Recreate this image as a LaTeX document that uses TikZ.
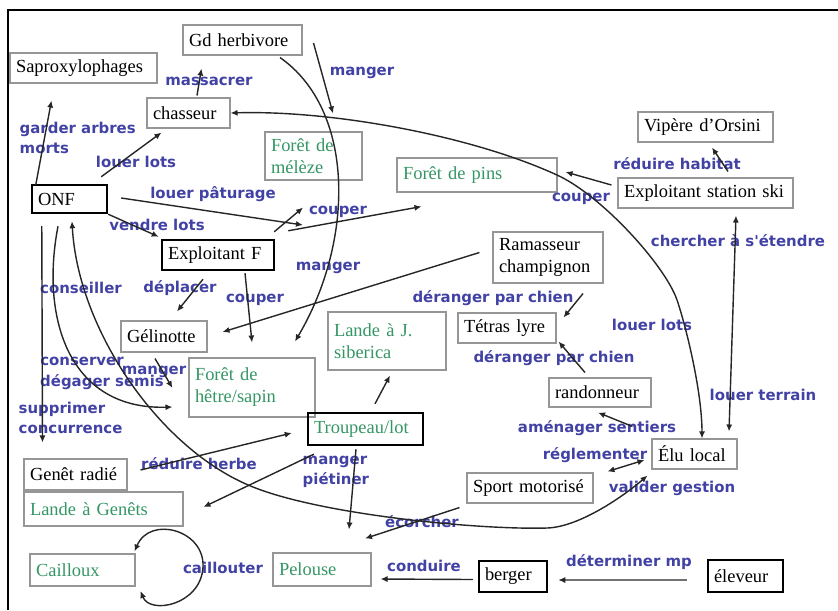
\documentclass[tikz,border=0pt]{standalone}
\usepackage{fontspec}
\setmainfont{Liberation Serif}
\newfontfamily\lblfont{DejaVu Sans}
\usetikzlibrary{arrows.meta,calc}
\definecolor{lblblue}{RGB}{66,66,165}
\definecolor{boxgreen}{RGB}{52,150,100}
\definecolor{boxgray}{RGB}{150,150,150}

\begin{document}
\begin{tikzpicture}[x=0.02cm, y=-0.02cm, line width=0.8pt,
  box/.style={draw=boxgray, line width=0.6pt, inner xsep=0.12cm, inner ysep=0pt,
    align=left, font=\fontsize{10.5}{12.5}\selectfont, minimum height=0.6cm},
  thickbox/.style={box, draw=black, line width=1.4pt},
  greentext/.style={text=boxgreen},
  lbl/.style={text=lblblue, font=\lblfont\bfseries\fontsize{8.5}{11}\selectfont,
    inner sep=0pt, align=left},
  arr/.style={-{Latex[length=4pt,width=3.5pt]}, black!85},
  darr/.style={{Latex[length=4pt,width=3.5pt]}-{Latex[length=4pt,width=3.5pt]}, black!85}]

\useasboundingbox (0,0) rectangle (838,610);
\draw[line width=1.2pt] (8,610) -- (8,10) -- (838,10);

% acteurs et milieux
\node[box, text width=2.14cm] (herb) at (242.5,40) {Gd herbivore};
\node[box, text width=2.70cm] (sapro) at (83.5,68) {Saproxylophages};
\node[box, text width=1.42cm] (chass) at (188.5,113) {chasseur};
\node[box, greentext, text width=1.70cm, minimum height=0.96cm] (meleze) at (313.5,156) {Forêt de\\mélèze};
\node[box, greentext, text width=2.96cm, minimum height=0.68cm] (pins) at (477,175) {Forêt de pins};
\node[box, text width=2.46cm] (vipere) at (705.5,127) {Vipère d'Orsini};
\node[box, text width=3.26cm] (ski) at (705.5,193) {Exploitant station ski};
\node[thickbox, text width=1.26cm, minimum height=0.56cm] (onf) at (69.5,199) {ONF};
\node[thickbox, text width=2.00cm] (explF) at (218,255) {Exploitant F};
\node[box, text width=1.48cm, minimum height=0.62cm] (gelin) at (164,336.5) {Gélinotte};
\node[box, greentext, text width=2.28cm, minimum height=1.18cm] (hetre) at (252,387.5) {Forêt de\\hêtre/sapin};
\node[box, greentext, text width=2.12cm, minimum height=1.16cm] (landej) at (387,341) {Lande à J.\\siberica};
\node[box, text width=1.96cm, minimum height=1.02cm] (ramass) at (548,257.5) {Ramasseur\\champignon};
\node[box, text width=1.72cm] (tetras) at (507,328) {Tétras lyre};
\node[box, text width=1.80cm, minimum height=0.58cm] (rando) at (600,392.5) {randonneur};
\node[thickbox, greentext, text width=2.06cm, minimum height=0.64cm] (troup) at (365.5,429) {Troupeau/lot};
\node[box, text width=1.82cm, minimum height=0.62cm] (genet) at (75.5,474.5) {Genêt radié};
\node[box, greentext, text width=2.94cm, minimum height=0.68cm] (landeg) at (103.5,509) {Lande à Genêts};
\node[box, greentext, text width=1.86cm, minimum height=0.64cm] (caill) at (82.5,570) {Cailloux};
\node[box, greentext, text width=1.72cm, minimum height=0.66cm] (pel) at (322,569.5) {Pelouse};
\node[box, text width=1.46cm] (elu) at (694.5,454) {Élu local};
\node[box, text width=2.28cm] (sport) at (530,488) {Sport motorisé};
\node[thickbox, text width=1.12cm, minimum height=0.62cm] (berger) at (513,576.5) {berger};
\node[thickbox, text width=1.26cm, minimum height=0.64cm] (eleveur) at (745.5,576) {éleveur};
\coordinate (patur) at (303,225);

% relations
\node[lbl] (lMassacrer) at (209,81) {massacrer};
\node[lbl] (lManger1) at (362,73) {manger};
\node[lbl, anchor=west] (lGarder) at (19,138) {garder arbres\\morts};
\node[lbl] (lLouer1) at (136,162) {louer lots};
\node[lbl] (lPaturage) at (213,194) {louer pâturage};
\node[lbl] (lVendre) at (157,225) {vendre lots};
\node[lbl] (lCouper1) at (338,212) {couper};
\node[lbl] (lManger2) at (328,268) {manger};
\node[lbl] (lCouper2) at (255,300) {couper};
\node[lbl] (lConseiller) at (81,288) {conseiller};
\node[lbl] (lDeplacer) at (180,288) {déplacer};
\node[lbl] (lDeranger1) at (493,298) {déranger par chien};
\node[lbl] (lDeranger2) at (554,358) {déranger par chien};
\node[lbl] (lLouer2) at (652,325) {louer lots};
\node[lbl] (lEtendre) at (738,241) {chercher à s'étendre};
\node[lbl] (lTerrain) at (763,395) {louer terrain};
\node[lbl] (lHabitat) at (677,164) {réduire habitat};
\node[lbl] (lCouper3) at (581,199) {couper};
\node[lbl] (lConserver) at (82,361) {conserver};
\node[lbl] (lSemis) at (102,382) {dégager semis};
\node[lbl] (lManger3) at (154,372) {manger};
\node[lbl, anchor=west] (lSupprimer) at (18,418) {supprimer\\concurrence};
\node[lbl] (lHerbe) at (199,464) {réduire herbe};
\node[lbl, anchor=west] (lPietiner) at (302,472) {manger\\piétiner};
\node[lbl] (lEcorcher) at (422,522) {écorcher};
\node[lbl] (lCaillouter) at (223,568) {caillouter};
\node[lbl] (lConduire) at (424,566) {conduire};
\node[lbl] (lMp) at (629,562) {déterminer mp};
\node[lbl] (lSentiers) at (597,428) {aménager sentiers};
\node[lbl] (lReglementer) at (595,455) {réglementer};
\node[lbl] (lValider) at (672,488) {valider gestion};

% fleches
\draw[arr] ($(onf.north west)+(5,1)$) -- ($(sapro.south west)+(42,17)$);
\draw[arr] ($(onf.north east)+(-7,-7)$) -- ($(chass.south west)+(15,4)$);
\draw[arr] ($(chass.north)+(8.5,-2)$) -- ($(herb.south west)+(19,13)$);
\draw[arr] ($(herb.east)+(11,3)$) -- ($(meleze.north)+(19.5,-18)$);
\draw[darr] (chass.east) .. controls (330,110) and (470,135) .. (557,175)
  .. controls (601,195) and (665,265) .. (677,300)
  .. controls (685,323) and (702,390) .. ($(elu.north)+(7.5,0)$);
\draw[arr] ($(herb.south)+(37.5,2)$) .. controls (355,110) and (355,240) .. ($(hetre.north)+(43,-16)$);
\draw[arr] ($(onf.east)+(13,-1)$) -- (patur);
\draw[arr] ($(explF.north east)+(-1,-7)$) -- ($(meleze.south)+(-10.5,27)$);
\draw[arr] ($(explF.north east)+(13,-8)$) -- ($(pins.south west)+(25,14)$);
\draw[arr] (onf.south east) -- ($(explF.north west)+(-2,-2)$);
\draw[arr] ($(explF.south)+(-15,8)$) -- ($(gelin.north)+(13,-9)$);
\draw[arr] ($(explF.south)+(27,2)$) -- ($(hetre.north)+(0,-15)$);
\draw[arr] ($(ramass.west)+(-13,-5)$) -- ($(gelin.east)+(15,-4.5)$);
\draw[arr] ($(ramass.south)+(35,10)$) -- ($(tetras.north east)+(7,5)$);
\draw[arr] ($(rando.north)+(-15,-5)$) -- ($(tetras.south east)+(2,-2)$);
\draw[arr] ($(ski.west)+(-6,-8)$) -- ($(pins.east)+(8,-3)$);
\draw[arr] ($(ski.north)+(22.5,-6)$) -- ($(vipere.south)+(6.5,5)$);
\draw[darr] ($(ski.south)+(30.5,7)$) -- ($(elu.north)+(34.5,-7)$);
\draw[arr] ($(elu.north west)+(-19,-12)$) -- ($(rando.south)+(-2,5)$);
\draw[darr] ($(elu.west)+(-7,6)$) -- ($(sport.north east)+(14,-1)$);
\draw[arr] ($(sport.south west)+(-7,4)$) -- ($(pel.north)+(43,-14)$);
\draw[arr] ($(troup.south)+(-9.5,3)$) -- ($(pel.north)+(27,-23)$);
\draw[arr] ($(troup.north)+(9.5,-8)$) -- ($(landej.south)+(3,5)$);
\draw[arr] ($(genet.east)+(13,-4.5)$) -- ($(troup.west)+(-15,4)$);
\draw[arr] ($(troup.south west)+(7,8)$) -- ($(landeg.east)+(20,-2)$);
\draw[arr] ($(onf.south west)+(11,12)$) -- ($(genet.north west)+(19,-16)$);
\draw[arr] ($(onf.south)+(-11.5,12)$) .. controls (40,320) and (70,410) .. ($(hetre.west)+(-16,19.5)$);
\draw[arr] ($(gelin.south)+(-9,6)$) -- ($(hetre.west)+(-16,0.5)$);
\draw[darr] ($(onf.south)+(2.5,7)$) .. controls (78,330) and (160,450) .. (253,487)
  .. controls (323,515) and (480,530) .. (547,528)
  .. controls (580,527) and (625,495) .. ($(elu.south west)+(-4,6)$);
\draw[arr] ($(berger.west)+(-5,3)$) -- ($(pel.east)+(9,9.5)$);
\draw[arr] ($(eleveur.west)+(-20,4)$) -- ($(berger.east)+(10,3.5)$);
\draw[darr] ($(caill.east)+(-1,-18.5)$) .. controls (150,515) and (205,530) .. (203,567)
  .. controls (201,605) and (150,615) .. ($(caill.east)+(5,21)$);
\end{tikzpicture}
\end{document}
